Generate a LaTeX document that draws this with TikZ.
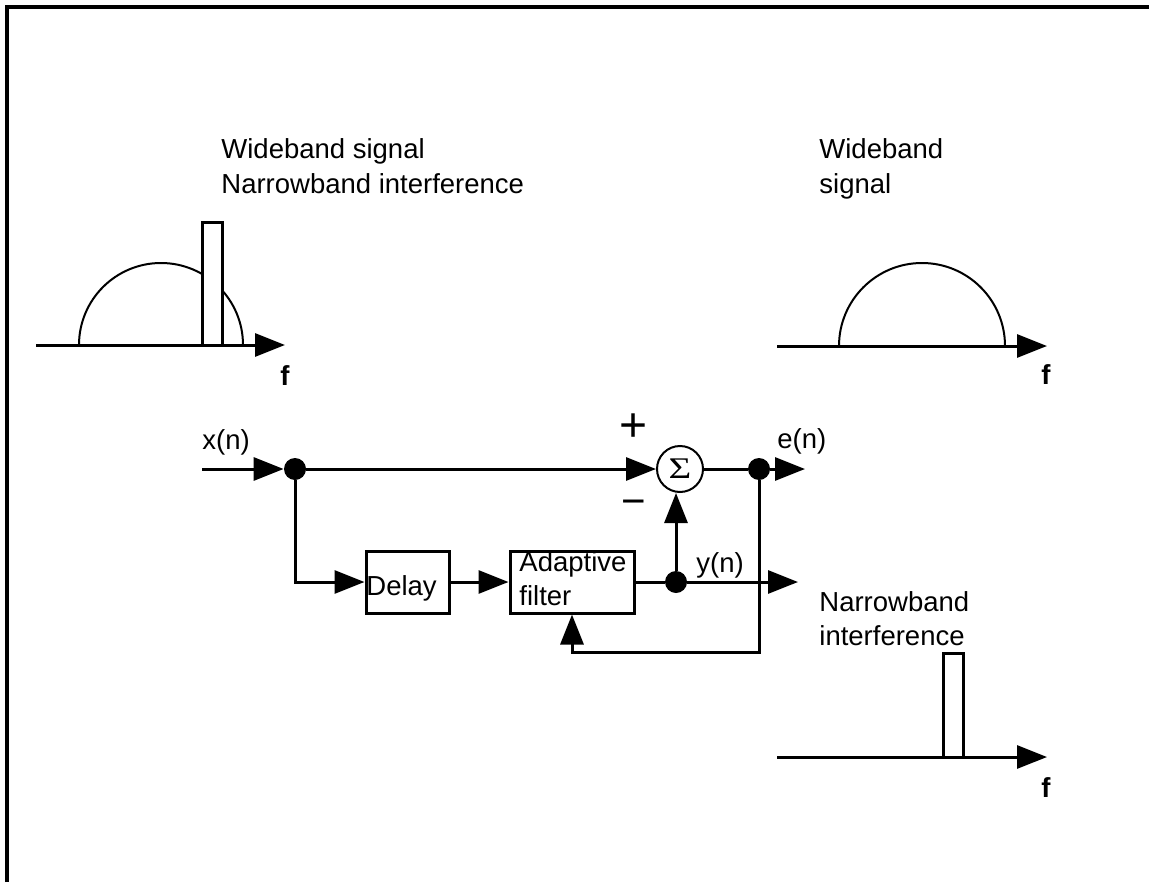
\documentclass[tikz,border=0pt]{standalone}
\usepackage{fontspec}
\setmainfont{Liberation Sans}
\newfontfamily\serifsym{Liberation Serif}
\usepackage{graphicx}
\usetikzlibrary{arrows.meta,calc}
\begin{document}
\begin{tikzpicture}[x=0.5pt,y=-0.5pt,
  every node/.style={font=\fontsize{13.75}{16}\selectfont, inner sep=0pt},
  ln/.style={line width=1.5pt},
  thin line/.style={line width=1pt},
  arr/.style={ln,-{Triangle[length=15pt,width=11.5pt]}},
  dot/.style={circle,fill=black,inner sep=0pt,minimum size=11pt},
  blk/.style={draw,line width=1.5pt,inner sep=0pt,minimum height=31pt},
  txt/.style={anchor=base west},
  flabel/.style={anchor=base,font=\fontsize{13.75}{16}\selectfont\bfseries},
  sumnode/.style={circle,draw,line width=1pt,minimum size=23pt,inner sep=0pt}]
\useasboundingbox (0,0) rectangle (1149,882);
% frame
\draw[line width=2pt,line join=miter] (7,882) -- (7,7) -- (1149,7);

% spectrum 1: wideband + narrowband
\draw[thin line] (79,345) arc[start angle=180,end angle=0,radius=41pt];
\filldraw[fill=white,ln] (202,222) rectangle (222,345);
\draw[arr] (36,345) -- (285,345);
\node[flabel] (f1) at (285,385) {f};
\node[txt] (t1a) at (221,159) {Wideband signal};
\node[txt] (t1b) at (221,193) {Narrowband interference};

% spectrum 2: wideband
\draw[thin line] (839,346) arc[start angle=180,end angle=0,radius=41.5pt];
\draw[arr] (777,346) -- (1047,346);
\node[flabel] (f2) at (1046,384) {f};
\node[txt] (t2a) at (819,159) {Wideband};
\node[txt] (t2b) at (819,193) {signal};

% spectrum 3: narrowband
\filldraw[fill=white,ln] (943,653) rectangle (963,757);
\draw[arr] (777,757) -- (1047,757);
\node[flabel] (f3) at (1046,797) {f};
\node[txt] (t3a) at (819,611) {Narrowband};
\node[txt] (t3b) at (819,645) {interference};

% block diagram
\coordinate (xin) at (202,469);
\coordinate (eout) at (805,469);
\coordinate (yout) at (798,582);
\coordinate (fb) at (572,652);
\node[dot] (d1) at (295,469) {};
\node[blk,minimum width=41.5pt] (delay) at (407.5,582) {};
\node[blk,minimum width=62pt] (adapt) at (572,582) {};
\node[sumnode] (sum) at (680,469) {\serifsym\scalebox{1.3}[1]{\fontsize{15}{15}\selectfont Σ}};
\node[dot] (d2) at (676,582) {};
\node[dot] (d3) at (759,469) {};

\draw[arr] (xin) -- (d1);
\draw[arr] (d1) -- (sum);
\draw[arr] (d1) |- (delay);
\draw[arr] (delay) -- (adapt);
\draw[ln] (adapt) -- (d2);
\draw[arr] (d2) -- (yout);
\draw[arr] (d2) -- (d2 |- sum.south);
\draw[ln] (sum) -- (d3);
\draw[arr] (d3) -- (eout);
\draw[arr] (d3) |- (fb) -- (adapt.south);

% labels
\node[txt] (lx) at (202,449) {x(n)};
\node[txt] (le) at (777,448) {e(n)};
\node[txt] (ly) at (696,572) {y(n)};
\node (lplus) at (634,428) {\fontsize{24}{24}\selectfont +};
\node (lminus) at (634,508) {\fontsize{21}{21}\selectfont −};
\node[txt] (ldelay) at (366,595) {Delay};
\node[txt] (ladapt1) at (519,571) {Adaptive};
\node[txt] (ladapt2) at (519,605) {filter};
\end{tikzpicture}
\end{document}
